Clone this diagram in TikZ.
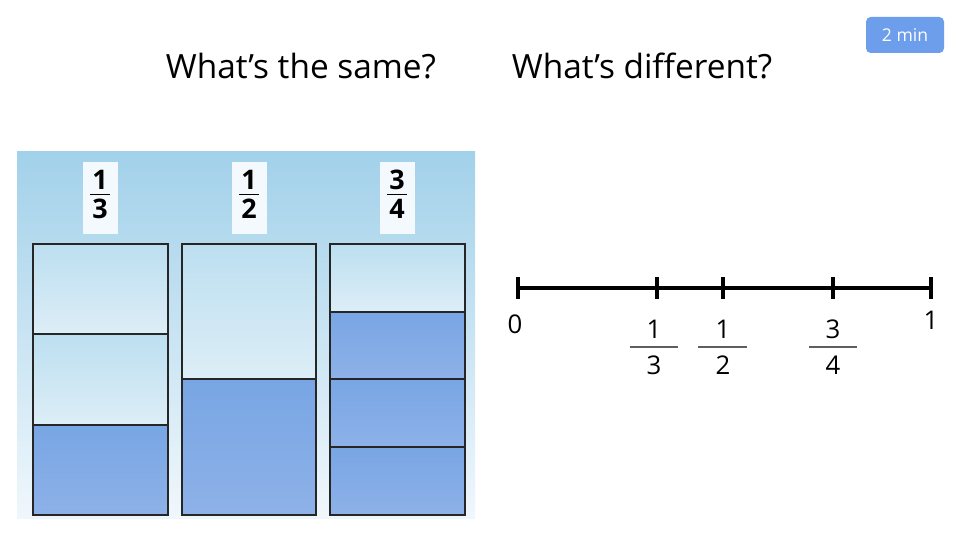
\documentclass[tikz,border=0pt]{standalone}
\usepackage{fontspec}
\setmainfont{Open Sans}
\usetikzlibrary{positioning}
\definecolor{panelTop}{HTML}{A2D1EA}
\definecolor{panelBot}{HTML}{F0F7FC}
\definecolor{lightTop}{HTML}{BCDFF0}
\definecolor{lightBot}{HTML}{DDEEF7}
\definecolor{fillTop}{HTML}{78A6E4}
\definecolor{fillBot}{HTML}{8EB1E8}
\definecolor{btnBlue}{HTML}{6D9EEB}
\definecolor{barGray}{HTML}{5F5F5F}
\definecolor{cardWhite}{HTML}{F4F9FD}
\newcommand\stackfrac[2]{\begin{tabular}{@{\kern2pt}c@{\kern2pt}}#1\\[-4pt]\hline\rule{0pt}{20pt}#2\end{tabular}}
\tikzset{
  title/.style={font=\fontsize{28.5}{32}\selectfont},
  fracbox/.style={fill=cardWhite, inner sep=1pt,
    minimum width=35*0.03cm, minimum height=71*0.03cm, font=\bfseries\fontsize{23}{26}\selectfont},
  part/.style={draw=black!85, line width=1.2pt},
  emptypart/.style={part, top color=lightTop, bottom color=lightBot},
  fullpart/.style={part, top color=fillTop, bottom color=fillBot},
  numlab/.style={font=\fontsize{22}{24}\selectfont},
  fracbar/.style={barGray, line width=2.4pt},
}
\begin{document}
\begin{tikzpicture}[x=0.03cm,y=-0.03cm]
  \useasboundingbox (0,0) rectangle (960,540);
  \fill[white] (0,0) rectangle (960,540);
  % timer
  \node[fill=btnBlue, rounded corners=4pt, text=white, minimum width=78*0.03cm,
    minimum height=36*0.03cm, font=\fontsize{15}{17}\selectfont] (timer) at (905,35) {2 min};
  % questions
  \node[title] (same) at (301,66) {What’s the same?};
  \node[title] (diff) at (642,66) {What’s different?};
  % panel
  \shade[top color=panelTop, bottom color=panelBot] (17,152) rectangle (475,518);
  \node[fracbox] (fA) at (100,198) {\stackfrac{1}{3}};
  \node[fracbox] (fB) at (249,198) {\stackfrac{1}{2}};
  \node[fracbox] (fC) at (397,198) {\stackfrac{3}{4}};
  % thirds
  \draw[emptypart] (33,244) rectangle (168,334);
  \draw[emptypart] (33,334) rectangle (168,425);
  \draw[fullpart] (33,425) rectangle (168,515);
  % halves
  \draw[emptypart] (182,244) rectangle (316,379);
  \draw[fullpart] (182,379) rectangle (316,515);
  % quarters
  \draw[emptypart] (330,244) rectangle (465,312);
  \draw[fullpart] (330,312) rectangle (465,379);
  \draw[fullpart] (330,379) rectangle (465,447);
  \draw[fullpart] (330,447) rectangle (465,515);
  % number line
  \coordinate (p0) at (518,288);
  \coordinate (pA) at (657,288);
  \coordinate (pB) at (723,288);
  \coordinate (pC) at (833,288);
  \coordinate (p1) at (931,288);
  \draw[line width=3.5pt] (p0) -- (p1);
  \foreach \p in {p0,pA,pB,pC,p1}
    \draw[line width=3pt] (\p) ++(0,-11) -- ++(0,22);
  \node[numlab] (l0) at (515,324) {0};
  \node[numlab] (l1) at (931,320) {1};
  \node[numlab] (nA) at (654,329) {1};
  \node[numlab] (dA) at (654,365) {3};
  \node[numlab] (nB) at (723,329) {1};
  \node[numlab] (dB) at (723,365) {2};
  \node[numlab] (nC) at (833,329) {3};
  \node[numlab] (dC) at (833,365) {4};
  \draw[fracbar] (630,347) -- (678,347);
  \draw[fracbar] (698,347) -- (747,347);
  \draw[fracbar] (809,347) -- (857,347);
\end{tikzpicture}
\end{document}
